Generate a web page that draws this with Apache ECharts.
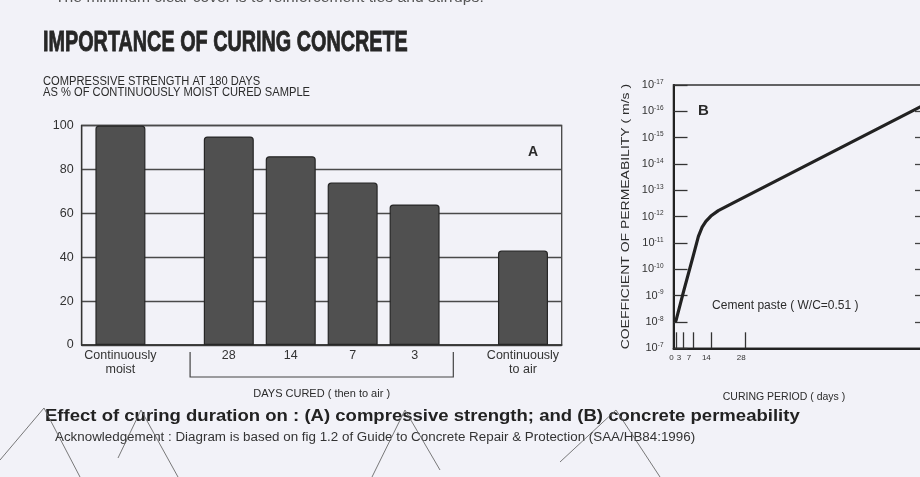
<!DOCTYPE html>
<html>
<head>
<meta charset="utf-8">
<script src="https://cdn.jsdelivr.net/npm/echarts@6/dist/echarts.min.js"></script>
<style>
  html, body { margin: 0; padding: 0; background: #f2f2f8; }
  #main { width: 920px; height: 477px; }
</style>
</head>
<body>
<div id="main"></div>
<script>
// (A) compressive strength at 180 days, % of continuously moist cured sample
const strengthLabels = ['Continuously\nmoist', '28', '14', '7', '3', 'Continuously\nto air'];
const strengthGroups = [0, 1, 1, 1, 1, 2];          // moist | days cured then to air | air only
const strengthPct = [100, 95, 86, 74, 64, 43];
const strengthTicks = [0, 20, 40, 60, 80, 100];

// (B) coefficient of permeability of cement paste (W/C = 0.51) against curing period
const curingDays = [0, 3, 7, 9, 10.5, 12, 14, 17, 23, 100];
const permeability = [8.9e-9, 7.2e-10, 2.9e-11, 5.6e-12, 2.5e-12, 1.5e-12, 9.5e-13, 5.9e-13, 3.0e-13, 5.5e-17];
const curingTicks = [0, 1, 3, 7, 14, 28];
const permDecades = [1e-17, 1e-16, 1e-15, 1e-14, 1e-13, 1e-12, 1e-11, 1e-10, 1e-9, 1e-8, 1e-7];

const FONT = '"Liberation Sans", Arial, sans-serif';
const INK = '#2b2b2b';

// category slots for panel A: bars sit 4 slots apart, with 3 extra slots between groups
const SLOTS = 31;
const slotOf = i => 2 + 4 * i + 3 * strengthGroups[i];
const slotLabels = new Array(SLOTS).fill('');
const slotValues = new Array(SLOTS).fill('-');
strengthLabels.forEach((lab, i) => { slotLabels[slotOf(i)] = lab; slotValues[slotOf(i)] = strengthPct[i]; });

const pow = v => Math.round(Math.log10(v));
const permMin = permDecades[0], permMax = permDecades[permDecades.length - 1];

const chart = echarts.init(document.getElementById('main'), null, { renderer: 'canvas' });

const option = {
  backgroundColor: '#f2f2f8',
  animation: false,
  textStyle: { fontFamily: FONT, color: INK },
  grid: [
    { left: 81.7, width: 480, top: 125.5, height: 219.5, show: true, borderColor: '#444', borderWidth: 1.3,
      backgroundColor: 'transparent', outerBoundsMode: 'none' },
    // panel B runs on past the right edge of the page
    { left: 673.5, width: 301.3, top: 85, height: 263.3, show: true, borderColor: '#333', borderWidth: 1.6,
      backgroundColor: 'transparent', outerBoundsMode: 'none' },
    // left axis of the next panel, just off the page
    { left: 921, width: 60, top: 85, height: 263.3, outerBoundsMode: 'none' }
  ],
  xAxis: [
    {
      gridIndex: 0, type: 'category', data: slotLabels, boundaryGap: true,
      axisLine: { lineStyle: { color: '#333', width: 1.5 } },
      axisTick: { show: false },
      axisLabel: { interval: 0, fontSize: 12.5, lineHeight: 14.5, color: '#333', margin: 3, fontFamily: FONT }
    },
    {
      gridIndex: 1, type: 'value', min: -1, max: 120,
      splitLine: { show: false },
      axisLine: { onZero: false, lineStyle: { color: '#222', width: 2 } },
      axisTick: { inside: true, length: 16, customValues: curingTicks, lineStyle: { color: '#333', width: 1.3 } },
      axisLabel: { customValues: curingTicks, showMinLabel: true, hideOverlap: false, fontSize: 8, color: '#333',
        margin: 5, padding: [0, 9, 0, 0], fontFamily: '"Liberation Sans Narrow", ' + FONT }
    },
    { gridIndex: 2, type: 'value', show: false }
  ],
  yAxis: [
    {
      gridIndex: 0, type: 'value', min: 0, max: 100, interval: 20,
      axisLine: { show: true, lineStyle: { color: '#333', width: 1.3 } },
      axisTick: { show: false },
      splitLine: { lineStyle: { color: '#4a4a4a', width: 1.3 } },
      axisLabel: { fontSize: 12.5, color: '#333', margin: 8, fontFamily: FONT, customValues: strengthTicks }
    },
    {
      gridIndex: 1, type: 'log', logBase: 10, min: permMin, max: permMax, inverse: true,
      splitLine: { show: false },
      axisLine: { show: true, onZero: false, lineStyle: { color: '#222', width: 2 } },
      axisTick: { inside: true, length: 14, customValues: permDecades, lineStyle: { color: '#333', width: 1.3 } },
      axisLabel: {
        customValues: permDecades, showMinLabel: true, showMaxLabel: true, hideOverlap: false,
        margin: 10, color: '#333',
        formatter: v => '{b|10}{e|' + pow(v) + '}',
        rich: {
          b: { fontSize: 11, fontFamily: FONT, color: '#333', lineHeight: 13 },
          e: { fontSize: 6.5, fontFamily: FONT, color: '#333', verticalAlign: 'top', lineHeight: 8 }
        }
      }
    },
    {
      gridIndex: 2, type: 'log', logBase: 10, min: permMin, max: permMax, inverse: true,
      splitLine: { show: false },
      axisLine: { show: false },
      axisTick: { show: true, length: 6, customValues: permDecades.slice(1, -1), lineStyle: { color: '#444', width: 1.3 } },
      axisLabel: { show: false }
    }
  ],
  series: [
    {
      type: 'bar', xAxisIndex: 0, yAxisIndex: 0, data: slotValues, barWidth: 50,
      itemStyle: { color: '#505050', borderColor: '#262626', borderWidth: 1.2, borderRadius: [3, 3, 0, 0] },
      silent: true
    },
    {
      type: 'line', xAxisIndex: 1, yAxisIndex: 1,
      data: curingDays.map((d, i) => [d, permeability[i]]),
      showSymbol: false, smooth: false,
      lineStyle: { color: '#222', width: 3.2, join: 'round', cap: 'round' },
      silent: true
    }
  ]
};

chart.setOption(option);

// annotations placed from the axes' own scales
const px = (axis, v) => chart.convertToPixel(axis, v);
const slotW = px({ xAxisIndex: 0 }, 1) - px({ xAxisIndex: 0 }, 0);
const slotLeft = k => px({ xAxisIndex: 0 }, k) - slotW / 2;
const baseA = px({ yAxisIndex: 0 }, 0);
const bracketL = slotLeft(slotOf(1) - 2);
const bracketR = slotLeft(slotOf(4) + 3);
const axisBx = px({ xAxisIndex: 1 }, -1);
const midBy = (px({ yAxisIndex: 1 }, permMin) + px({ yAxisIndex: 1 }, permMax)) / 2;

const label = (t, x, y, font, opts) => {
  opts = opts || {};
  return {
    type: 'text', x: x, y: y, silent: true,
    scaleX: opts.scaleX || 1, rotation: opts.rotation || 0,
    style: Object.assign({ text: t, font: font, fill: INK, align: 'left', verticalAlign: 'middle' }, opts.style || {})
  };
};
const stroke = (points) => ({
  type: 'polyline', silent: true, shape: { points: points },
  style: { stroke: '#6a6a6a', lineWidth: 0.9, fill: null }
});

chart.setOption({
  graphic: [
    // tail of the previous paragraph, cut by the page edge
    label('The minimum clear cover is to reinforcement ties and stirrups.', 55, -1.5, '14px ' + FONT,
      { scaleX: 1.12, style: { fill: '#555' } }),
    label('IMPORTANCE OF CURING CONCRETE', 43, 43, 'bold 30px ' + FONT,
      { scaleX: 0.66, style: { fill: '#262626', stroke: '#262626', lineWidth: 0.9 } }),
    label('COMPRESSIVE STRENGTH AT 180 DAYS', 43, 82, '12px ' + FONT, { scaleX: 0.93 }),
    label('AS % OF CONTINUOUSLY MOIST CURED SAMPLE', 43, 93, '12px ' + FONT, { scaleX: 0.93 }),
    label('A', px({ xAxisIndex: 0 }, slotOf(5)) + 10, px({ yAxisIndex: 0 }, 88), 'bold 14px ' + FONT,
      { style: { align: 'center' } }),
    {
      type: 'polyline', silent: true,
      shape: { points: [[bracketL, baseA + 7], [bracketL, baseA + 32], [bracketR, baseA + 32], [bracketR, baseA + 7]] },
      style: { stroke: '#444', lineWidth: 1.2, fill: null }
    },
    label('DAYS CURED ( then to air )', (bracketL + bracketR) / 2, baseA + 49, '11px ' + FONT,
      { style: { align: 'center' } }),
    label('B', px({ xAxisIndex: 1 }, 11), px({ yAxisIndex: 1 }, 1e-16), 'bold 15px ' + FONT,
      { style: { align: 'center' } }),
    label('Cement paste ( W/C=0.51 )', px({ xAxisIndex: 1 }, 14.5), px({ yAxisIndex: 1 }, 10 ** -8.6), '12px ' + FONT),
    label('COEFFICIENT OF PERMEABILITY ( m/s )', axisBx - 48, midBy, '11px ' + FONT,
      { rotation: Math.PI / 2, scaleX: 1.27, style: { align: 'center' } }),
    label('CURING PERIOD ( days )', 784, 397, '10.5px ' + FONT, { style: { align: 'center' } }),
    label('Effect of curing duration on : (A) compressive strength; and (B) concrete permeability', 45, 416,
      'bold 17px ' + FONT, { scaleX: 1.09, style: { fill: '#222' } }),
    label('Acknowledgement : Diagram is based on fig 1.2 of Guide to Concrete Repair & Protection (SAA/HB84:1996)', 55, 438,
      '12.5px ' + FONT, { scaleX: 1.07, style: { fill: '#333' } }),
    // pen strokes across the foot of the page
    stroke([[0, 460], [44, 408], [80, 477]]),
    stroke([[118, 458], [141, 410], [178, 477]]),
    stroke([[372, 477], [405, 410], [440, 470]]),
    stroke([[560, 462], [616, 410], [660, 477]])
  ]
});
</script>
</body>
</html>
